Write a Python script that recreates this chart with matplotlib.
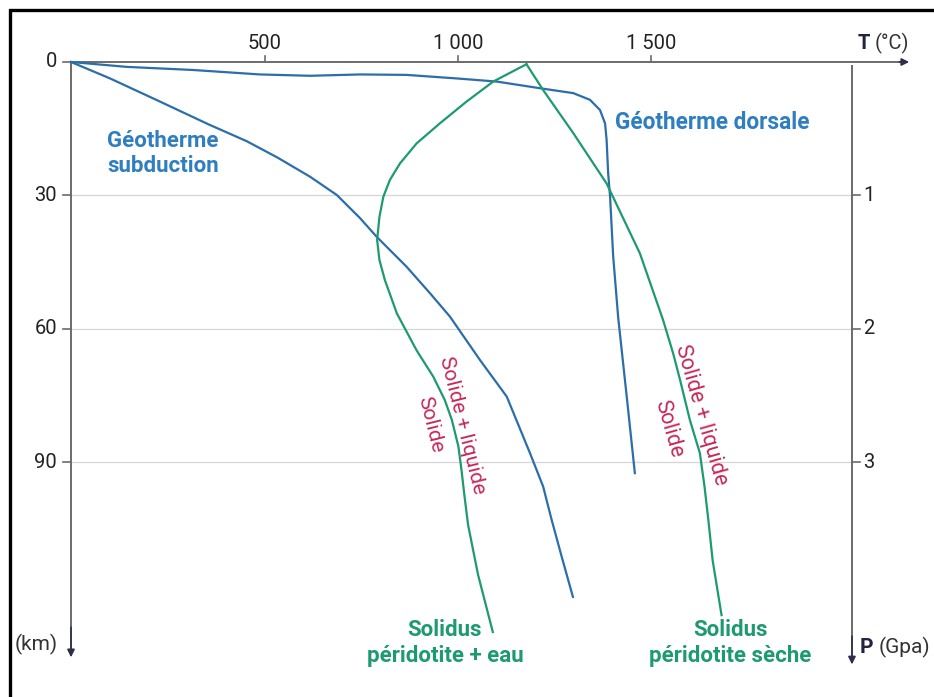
import matplotlib
matplotlib.use("Agg")
import matplotlib.pyplot as plt

# --- data -----------------------------------------------------------------
# Géotherme dorsale (T °C, depth km)
dorsale_T = [0, 144, 316, 488, 618, 747, 867, 997, 1100, 1212, 1298, 1341, 1367,
             1380, 1384, 1388, 1393, 1401, 1414, 1436, 1457]
dorsale_d = [0, 1.1, 1.8, 2.8, 3.1, 2.8, 2.9, 3.7, 4.4, 5.9, 7.0, 8.5, 10.8,
             13.8, 17.5, 25.0, 30.3, 43.7, 57.5, 75.2, 92.4]

# Géotherme subduction
subd_T = [0, 101, 230, 355, 454, 532, 618, 687, 747, 790, 867, 928, 979,
          1057, 1126, 1186, 1220, 1242, 1269, 1297]
subd_d = [0, 3.7, 8.9, 14.0, 17.8, 21.4, 25.8, 29.9, 35.1, 39.3, 46.0, 52.0, 57.2,
          67.0, 75.2, 87.9, 95.4, 102.9, 111.5, 120.2]

# Solidus péridotite sèche
dry_T = [1177, 1220, 1298, 1384, 1470, 1530, 1556, 1574, 1599, 1625, 1637, 1647, 1658, 1681]
dry_d = [0.5, 6.3, 16.0, 27.3, 43.0, 58.0, 65.5, 71.5, 80.4, 87.9, 95.4, 103.0, 112.0, 124.3]

# Solidus péridotite + eau
wet_T = [1177, 1091, 1022, 953, 893, 850, 824, 807, 797, 791, 797, 811, 842,
         893, 936, 966, 984, 1001, 1009, 1017, 1026, 1052, 1090]
wet_d = [0.5, 4.4, 8.9, 13.8, 18.3, 22.8, 26.5, 30.3, 34.8, 40.0, 44.5, 49.0, 56.5,
         64.8, 70.7, 76.0, 80.4, 86.4, 91.7, 97.7, 104.0, 115.3, 128.1]

temp_ticks = [500, 1000, 1500]
temp_labels = ["500", "1 000", "1 500"]
depth_ticks = [0, 30, 60, 90]
pressure_labels = ["1", "2", "3"]
pressure_depths = [30, 60, 90]

# --- style ----------------------------------------------------------------
BLUE_LINE = "#2b6ea9"
BLUE_TEXT = "#2f7fc0"
GREEN = "#1e9a70"
CRIMSON = "#c42a5a"
AXIS = "#6b6b6b"
ARROW = "#2e2e4a"
plt.rcParams["font.family"] = ["Roboto", "DejaVu Sans"]

T_AXIS_END = 2173
P_AXIS_T = 2018
DEPTH_END = 134.4
LW = 1.6

fig = plt.figure(figsize=(9.34, 6.97), dpi=100)
ax = fig.add_axes([0, 0, 1, 1])
ax.set_xlim(-183.5, 2230)
ax.set_ylim(142.7, -13.93)
ax.axis("off")

# frame (top and left edges)
ax.plot([0.0112, 0.0112, 1.0], [0.0, 0.9850, 0.9850], transform=ax.transAxes,
        color="black", lw=2.4, solid_capstyle="butt", solid_joinstyle="miter")

# grid lines
for d in depth_ticks[1:]:
    ax.plot([0, P_AXIS_T], [d, d], color="#d6d6d6", lw=0.9, zorder=1)

# axes with arrows
ax.plot([0, T_AXIS_END - 25], [0, 0], color=AXIS, lw=1.4, zorder=2)
ax.annotate("", xy=(T_AXIS_END, 0), xytext=(T_AXIS_END - 40, 0),
            arrowprops=dict(arrowstyle="-|>", color=ARROW, lw=1.2, mutation_scale=11))
ax.plot([0, 0], [0, DEPTH_END - 2], color=AXIS, lw=1.4, zorder=2)
ax.annotate("", xy=(0, DEPTH_END), xytext=(0, DEPTH_END - 8),
            arrowprops=dict(arrowstyle="-|>", color=ARROW, lw=1.2, mutation_scale=11))
ax.plot([P_AXIS_T, P_AXIS_T], [0.8, DEPTH_END], color=AXIS, lw=1.4, zorder=2)
ax.annotate("", xy=(P_AXIS_T, DEPTH_END + 1.6), xytext=(P_AXIS_T, DEPTH_END - 6),
            arrowprops=dict(arrowstyle="-|>", color=ARROW, lw=1.2, mutation_scale=11))

# ticks and labels
for t, lab in zip(temp_ticks, temp_labels):
    ax.plot([t, t], [0, -1.4], color=AXIS, lw=1.2)
    ax.text(t, -4.2, lab, ha="center", va="center", fontsize=14.5, color="#222222")
ax.text(2032, -4.2, "T", ha="left", va="center", fontsize=14.5, color="#222244", fontweight="bold")
ax.text(2076, -4.2, "(°C)", ha="left", va="center", fontsize=14.5, color="#333333")

for d in depth_ticks:
    ax.plot([-20, 0], [d, d], color=AXIS, lw=1.2)
    ax.text(-36, d, str(d), ha="right", va="center", fontsize=14.5, color="#222222")
ax.text(-91, 130.8, "(km)", ha="center", va="center", fontsize=15, color="#333333")

for d, lab in zip(pressure_depths, pressure_labels):
    ax.plot([P_AXIS_T, P_AXIS_T + 20], [d, d], color=AXIS, lw=1.2)
    ax.text(P_AXIS_T + 30, d, lab, ha="left", va="center", fontsize=14.5, color="#222222")
ax.text(2039, 131.5, "P", ha="left", va="center", fontsize=15, color="#222244", fontweight="bold")
ax.text(2088, 131.5, "(Gpa)", ha="left", va="center", fontsize=15, color="#333333")

# curves
ax.plot(dorsale_T, dorsale_d, color=BLUE_LINE, lw=LW, zorder=3)
ax.plot(subd_T, subd_d, color=BLUE_LINE, lw=LW, zorder=3)
ax.plot(dry_T, dry_d, color=GREEN, lw=LW, zorder=3)
ax.plot(wet_T, wet_d, color=GREEN, lw=LW, zorder=3)

# curve labels
ax.text(238, 20.5, "Géotherme\nsubduction", ha="center", va="center", fontsize=16,
        fontweight="bold", color=BLUE_TEXT, linespacing=1.2)
ax.text(1406, 13.6, "Géotherme dorsale", ha="left", va="center", fontsize=16.3,
        fontweight="bold", color=BLUE_TEXT)
ax.text(966, 130.6, "Solidus\npéridotite + eau", ha="center", va="center", fontsize=16,
        fontweight="bold", color=GREEN, linespacing=1.25)
ax.text(1703, 130.6, "Solidus\npéridotite sèche", ha="center", va="center", fontsize=16,
        fontweight="bold", color=GREEN, linespacing=1.25)

# phase-field labels
ax.text(1011, 81.6, "Solide + liquide", rotation=-76, rotation_mode="anchor",
        ha="center", va="center", fontsize=15, color=CRIMSON)
ax.text(929, 81.4, "Solide", rotation=-76, rotation_mode="anchor",
        ha="center", va="center", fontsize=15, color=CRIMSON)
ax.text(1628, 79.4, "Solide + liquide", rotation=-74, rotation_mode="anchor",
        ha="center", va="center", fontsize=15.5, color=CRIMSON)
ax.text(1543, 82.4, "Solide", rotation=-74, rotation_mode="anchor",
        ha="center", va="center", fontsize=15.5, color=CRIMSON)

fig.savefig("out.png", dpi=100, facecolor="white")
